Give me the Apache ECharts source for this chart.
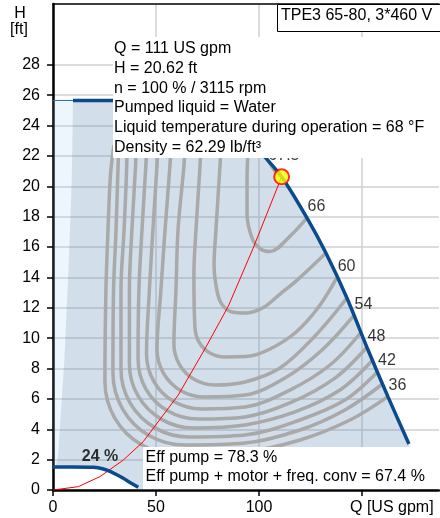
<!DOCTYPE html>
<html><head><meta charset="utf-8">
<script src="https://cdn.jsdelivr.net/npm/echarts@6/dist/echarts.min.js"></script>
<style>html,body{margin:0;padding:0;background:#fff}#c{width:440px;height:518px}</style>
</head><body><div id="c"></div>
<script>
// ---------- data ----------
const X_LABELS = [0, 50, 100];
const X_TICKS = [0, 50, 100, 150];
const Y_LABELS = [0, 2, 4, 6, 8, 10, 12, 14, 16, 18, 20, 22, 24, 26, 28];
const X_NAME = 'Q [US gpm]';
const Y_NAME_1 = 'H';
const Y_NAME_2 = '[ft]';
const TITLE = 'TPE3 65-80, 3*460 V';
const INFO_LINES = ['Q = 111 US gpm', 'H = 20.62 ft', 'n = 100 % / 3115 rpm', 'Pumped liquid = Water',
  'Liquid temperature during operation = 68 °F', 'Density = 62.29 lb/ft³'];
const EFF_LINES = ['Eff pump = 78.3 %', 'Eff pump + motor + freq. conv = 67.4 %'];

// max speed / power curve
const MAX_Q = [9.7, 30, 50, 70, 85, 95, 103, 111, 123.3, 132.5, 142.7, 152.4, 162.6, 172.8];
const MAX_H = [25.65, 25.65, 25.55, 25.0, 24.0, 23.0, 21.9, 20.62, 17.91, 15.6, 12.64, 9.4, 6.15, 3.03];
// thin top line of the low-flow zone
const TOP_Q = [0, 9.7];
const TOP_H = [25.65, 25.65];
// min speed curve (24 %)
const MIN_Q = [0, 10, 19.6, 24, 27.7, 31, 34.1, 38, 41.4];
const MIN_H = [1.52, 1.52, 1.49, 1.40, 1.22, 1.0, 0.77, 0.45, 0.18];
const MIN_LABEL = '24 %';
const MIN_LABEL_AT = [22.8, 2.2];
// boundary of the low-flow zone
const SLANT_Q = [9.7, 9.1, 7.5, 5.5, 2.4, 1.3];
const SLANT_H = [25.65, 20.4, 14.5, 8.56, 2.2, 1.52];
// system curve
const SYS_Q = [0, 12.3, 22.8, 34.1, 43.8, 60.8, 73.8, 85.1, 97.1, 111];
const SYS_H = [0, 0.22, 0.88, 1.97, 3.18, 6.25, 9.3, 12.1, 15.9, 20.62];
// duty point
const OP_POINT = [111, 20.62];

// efficiency iso-lines
const CONTOUR_EFF = [36, 39, 42, 45, 48, 51, 54, 57, 60, 63, 66];
const CONTOUR_Q = [
  [29.6, 27.9, 26.7, 25.7, 25.2, 30.0, 43.2, 61.2, 93.2, 119.9, 144.2, 162.6],
  [32.0, 31.6, 30.6, 29.4, 29.1, 33.8, 46.6, 64.1, 93.2, 119.9, 141.7, 160.0],
  [35.9, 35.8, 34.5, 33.0, 33.0, 37.4, 49.5, 66.0, 93.2, 119.9, 141.7, 157.5],
  [40.3, 40.1, 38.3, 37.1, 37.1, 41.3, 52.7, 68.2, 93.2, 117.5, 139.3, 155.1],
  [45.6, 45.1, 43.2, 41.7, 41.3, 45.1, 55.8, 70.4, 93.2, 115.0, 136.9, 152.4],
  [51.0, 50.5, 48.5, 46.8, 45.4, 49.0, 58.7, 72.1, 93.2, 115.0, 134.5, 149.5],
  [57.3, 56.8, 54.4, 52.4, 50.5, 53.6, 62.1, 73.8, 93.2, 112.6, 130.6, 146.1],
  [64.1, 63.6, 60.7, 59.7, 58.7, 61.4, 68.7, 78.6, 93.2, 110.2, 127.2, 142.7],
  [71.8, 71.4, 69.4, 68.4, 68.9, 70.9, 76.2, 83.5, 95.6, 105.3, 117.5, 128.6, 137.9],
  [81.6, 81.1, 79.1, 78.2, 79.1, 81.6, 87.4, 93.2, 101.9, 110.2, 118.4, 132.5],
  [94.7, 94.2, 94.2, 96.6, 100.5, 105.3, 115.0, 123.3]
];
const CONTOUR_H = [
  [22.71, 20.74, 17.12, 13.17, 7.18, 4.74, 2.96, 2.30, 2.50, 3.29, 4.61, 6.15],
  [22.71, 21.40, 17.12, 13.17, 7.70, 5.33, 3.59, 2.96, 3.09, 3.95, 5.27, 6.98],
  [22.71, 21.40, 17.12, 13.17, 7.97, 5.73, 4.09, 3.49, 3.62, 4.61, 5.92, 7.77],
  [22.71, 21.40, 17.12, 13.17, 8.30, 6.19, 4.65, 4.08, 4.28, 5.14, 6.58, 8.54],
  [22.71, 21.40, 17.12, 13.17, 8.62, 6.65, 5.20, 4.67, 4.81, 5.73, 7.37, 9.4],
  [22.71, 21.40, 17.12, 13.17, 8.95, 7.14, 5.82, 5.33, 5.46, 6.58, 8.23, 10.37],
  [22.71, 21.40, 17.12, 13.17, 9.28, 7.70, 6.54, 6.12, 6.25, 7.37, 9.22, 11.5],
  [22.71, 21.40, 17.12, 13.17, 9.61, 8.26, 7.27, 6.91, 7.11, 8.03, 10.14, 12.64],
  [22.7, 21.4, 17.1, 14.2, 10.73, 9.74, 9.02, 8.76, 8.82, 9.28, 10.34, 11.98, 14.0],
  [22.7, 21.4, 17.1, 14.8, 13.5, 12.3, 11.7, 11.65, 12.0, 12.9, 13.8, 15.6],
  [22.4, 20.4, 18.2, 16.6, 15.9, 15.7, 16.7, 17.91]
];
const LABELED_EFF = [66, 60, 54, 48, 42, 36];
const PEAK_Q = [101.5, 104.4, 107.8, 110.2];
const PEAK_H = [22.5, 21.7, 21.0, 20.7];
const PEAK_LABEL = '67.5';
const PEAK_LABEL_AT = [112.1, 22.05];

// ---------- chart ----------
const FONT = '"Liberation Sans", Arial, sans-serif';
const zip = (a, b) => a.map((v, i) => [v, b[i]]);

function polygonSeries(pts, fill, z) {
  return {
    type: 'custom', coordinateSystem: 'cartesian2d', data: pts, z: z, silent: true, clip: true,
    encode: { x: 0, y: 1 },
    renderItem: function (params, api) {
      if (params.dataIndex !== 0) return null;
      return { type: 'polygon', shape: { points: pts.map(p => api.coord(p)) }, style: { fill: fill } };
    }
  };
}

const maxPts = zip(MAX_Q, MAX_H);
const minPts = zip(MIN_Q, MIN_H);
const slantPts = zip(SLANT_Q, SLANT_H);
const lightPoly = [[0, TOP_H[0]]].concat(slantPts).concat([[0, MIN_H[0]]]);
const darkPoly = maxPts
  .concat([[MAX_Q[MAX_Q.length - 1], 0], [MIN_Q[MIN_Q.length - 1], 0]])
  .concat(minPts.slice().reverse().filter(p => p[0] > SLANT_Q[SLANT_Q.length - 1]))
  .concat(slantPts.slice().reverse());

const series = [];
series.push(polygonSeries(lightPoly, 'rgba(150,200,240,0.17)', 1));
series.push(polygonSeries(darkPoly, 'rgba(100,140,180,0.29)', 1));

CONTOUR_EFF.forEach((e, i) => {
  series.push({
    type: 'line', data: zip(CONTOUR_Q[i], CONTOUR_H[i]), smooth: 0.35, symbol: 'none', z: 3, silent: true,
    lineStyle: { color: '#a9a9a9', width: 3.5 }
  });
});
series.push({
  type: 'line', data: zip(PEAK_Q, PEAK_H), smooth: 0.35, symbol: 'none', z: 3, silent: true,
  lineStyle: { color: '#a9a9a9', width: 3.5 }
});
series.push({
  type: 'line', data: zip(SYS_Q, SYS_H), smooth: false, symbol: 'none', z: 4, silent: true,
  lineStyle: { color: '#ff0000', width: 1 }
});
series.push({
  type: 'line', data: zip(TOP_Q, TOP_H), symbol: 'none', z: 5, silent: true,
  lineStyle: { color: '#2f6aa8', width: 1 }
});
series.push({
  type: 'line', data: maxPts, smooth: 0.3, symbol: 'none', z: 5, silent: true,
  lineStyle: { color: '#0b4a8b', width: 3.5 }
});
series.push({
  type: 'line', data: minPts, smooth: 0.3, symbol: 'none', z: 5, silent: true,
  lineStyle: { color: '#0b4a8b', width: 3.5 }
});

const labelData = LABELED_EFF.map(e => {
  const i = CONTOUR_EFF.indexOf(e);
  const q = CONTOUR_Q[i], h = CONTOUR_H[i];
  return { value: [q[q.length - 1], h[h.length - 1]], name: String(e), label: { offset: [9.5, -11] } };
});
labelData.push({ value: PEAK_LABEL_AT, name: PEAK_LABEL, label: { offset: [0, 0] } });
labelData.push({ value: MIN_LABEL_AT, name: MIN_LABEL, label: { offset: [0, 0], fontWeight: 'bold' } });
series.push({
  type: 'scatter', data: labelData, symbolSize: 0, z: 6, silent: true,
  label: { show: true, position: 'inside', formatter: p => p.name, color: '#000', fontSize: 16, fontFamily: FONT }
});
series.push({
  type: 'scatter', data: [OP_POINT], symbol: 'circle', symbolSize: 15, z: 7, silent: true,
  itemStyle: { color: '#ffff00', borderColor: '#ff0000', borderWidth: 2 }
});

const txt = (text, x, y, align) => ({
  type: 'text', z: 101, silent: true,
  style: { text: text, x: x, y: y, font: '16px ' + FONT, fill: '#000', textVerticalAlign: 'middle', textAlign: align || 'left' }
});

const graphics = [
  { type: 'rect', z: 100, silent: true, shape: { x: 113, y: 37, width: 330, height: 121 }, style: { fill: '#fff' } },
  { type: 'rect', z: 100, silent: true, shape: { x: 143, y: 447, width: 300, height: 42 }, style: { fill: '#fff' } },
  { type: 'rect', z: 100, silent: true, shape: { x: 277.5, y: 4.5, width: 170, height: 27 }, style: { fill: '#fff', stroke: '#000', lineWidth: 1 } },
  txt(TITLE, 281, 16)
];
const infoY = [49, 68.7, 88.3, 107.8, 127.5, 147.2];
INFO_LINES.forEach((l, i) => graphics.push(txt(l, 114, infoY[i])));
const effY = [457.5, 477];
EFF_LINES.forEach((l, i) => graphics.push(txt(l, 145.5, effY[i])));
graphics.push(txt(Y_NAME_1, 20, 13.5, 'center'));
graphics.push(txt(Y_NAME_2, 19, 29.5, 'center'));
graphics.push(txt(X_NAME, 350, 508));

const chart = echarts.init(document.getElementById('c'), null, { renderer: 'canvas' });
chart.setOption({
  animation: false,
  grid: { left: 53, top: 4, width: 386, height: 486, containLabel: false },
  xAxis: [{
    type: 'value', min: 0, max: 187.4, interval: 50,
    axisLine: { show: true, onZero: false, lineStyle: { color: '#000', width: 2.5 } },
    axisTick: { show: true, inside: false, length: 6, customValues: X_TICKS, lineStyle: { color: '#000', width: 1.5 } },
    axisLabel: { show: true, customValues: X_LABELS, margin: 10, color: '#000', fontSize: 16, fontFamily: FONT },
    splitLine: { show: true, lineStyle: { color: '#d0d0d0', width: 1.5 } }
  }, {
    type: 'value', position: 'top', min: 0, max: 187.4,
    axisLine: { show: true, onZero: false, lineStyle: { color: '#000', width: 1.5 } },
    axisTick: { show: false }, axisLabel: { show: false }, splitLine: { show: false }
  }],
  yAxis: {
    type: 'value', min: 0, max: 32, interval: 2,
    axisLine: { show: true, onZero: false, lineStyle: { color: '#000', width: 2.5 } },
    axisTick: { show: true, inside: false, length: 6, customValues: Y_LABELS, lineStyle: { color: '#000', width: 1.5 } },
    axisLabel: { show: true, customValues: Y_LABELS, margin: 13, color: '#000', fontSize: 16, fontFamily: FONT },
    splitLine: { show: true, lineStyle: { color: '#d0d0d0', width: 1.5 } }
  },
  series: series,
  graphic: { elements: graphics }
});
</script>
</body></html>
